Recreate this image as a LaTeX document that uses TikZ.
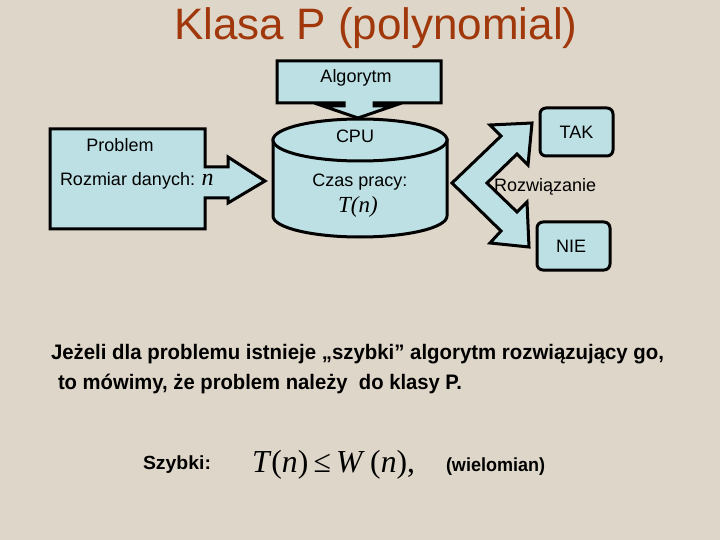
\documentclass[tikz,border=0pt]{standalone}
\usepackage{fontspec}
\setmainfont{Liberation Sans}
\newfontfamily\tnr{Liberation Serif}
\usepackage{graphicx}
\definecolor{bgc}{HTML}{DED6C8}
\definecolor{fillc}{HTML}{BDE0E4}
\definecolor{titlec}{HTML}{A0380C}
\tikzset{
  shapeline/.style={draw=black, fill=fillc, line width=3pt, line join=miter},
  txt/.style={inner sep=0pt, outer sep=0pt, text=black},
  sz/.style={font=\fontsize{#1}{#1}\selectfont},
  rbox/.style={shapeline, rounded corners=6pt, inner sep=0pt, minimum width=73pt, minimum height=48pt, font=\fontsize{18}{18}\selectfont}
}
\begin{document}
\begin{tikzpicture}[x=1pt,y=-1pt]
\fill[bgc] (0,0) rectangle (720,540);
\useasboundingbox (0,0) rectangle (720,540);
% title
\node[txt, anchor=base, text=titlec, sz=44] (title) at (376,40) {Klasa P (polynomial)};
% cylinder (CPU)
\path[shapeline] (273,140) -- (273,216) arc[start angle=180, end angle=360, x radius=87pt, y radius=21pt] -- (447,140) -- cycle;
\path[shapeline] (360,140) ellipse [x radius=87pt, y radius=21pt];
% Algorytm arrow
\path[shapeline] (277,61) -- (441,61) -- (441,103) -- (374,103) -- (374,106) -- (393,106) -- (358,118) -- (323,106) -- (344,106) -- (344,103) -- (277,103) -- cycle;
% Problem arrow
\path[shapeline] (50,129) -- (205,129) -- (205,167) -- (228,167) -- (228,157) -- (265,181) -- (228,203) -- (228,198) -- (205,198) -- (205,229) -- (50,229) -- cycle;
% decision double arrow
\path[shapeline] (452,183) -- (501,136) -- (490,125) -- (532,123) -- (528,165) -- (517,154) -- (487,183) -- (517,212) -- (527,202) -- (529,247) -- (490,243) -- (501,231) -- cycle;
% TAK / NIE
\node[rbox] (tak) at (576.5,132) {TAK};
\node[rbox] (nie) at (573.5,246) {\hspace*{-5pt}NIE};
% texts
\node[txt, anchor=base, sz=18] (alg) at (356,83) {Algorytm};
\node[txt, anchor=base, sz=18] (cpu) at (355,143) {CPU};
\node[txt, anchor=base, sz=18] (czas) at (360,187) {Czas pracy:};
\node[txt, anchor=base, font=\tnr\itshape\fontsize{23}{23}\selectfont] (tn) at (358,213) {T(n)};
\node[txt, anchor=base, sz=18] (prob) at (120,152) {Problem};
\node[txt, anchor=base west, sz=18] (rozm) at (60,186) {Rozmiar danych: {\tnr\itshape\fontsize{24}{24}\selectfont n}};
\node[txt, anchor=base west, sz=18] (rozw) at (494,192) {Rozwiązanie};
% bottom text
\node[txt, anchor=base west, font=\bfseries\fontsize{21}{21}\selectfont] (l1) at (51,359) {\resizebox{613pt}{\height}{Jeżeli dla problemu istnieje „szybki” algorytm rozwiązujący go,}};
\node[txt, anchor=base west, font=\bfseries\fontsize{21}{21}\selectfont] (l2) at (58,389) {\resizebox{404pt}{\height}{to mówimy, że problem należy\ \ do klasy P.}};
\node[txt, anchor=base west, font=\bfseries\fontsize{19}{19}\selectfont] (szy) at (143,469) {\resizebox{68pt}{\height}{Szybki:}};
\node[txt, anchor=base west, font=\tnr\fontsize{32}{32}\selectfont] (form) at (252,472) {\resizebox{163pt}{\height}{\textit{T}(\textit{n})\,≤\,\textit{W}\,(\textit{n}),}};
\node[txt, anchor=base west, font=\bfseries\fontsize{19}{19}\selectfont] (wiel) at (446,471) {\resizebox{99pt}{\height}{(wielomian)}};
\end{tikzpicture}
\end{document}
